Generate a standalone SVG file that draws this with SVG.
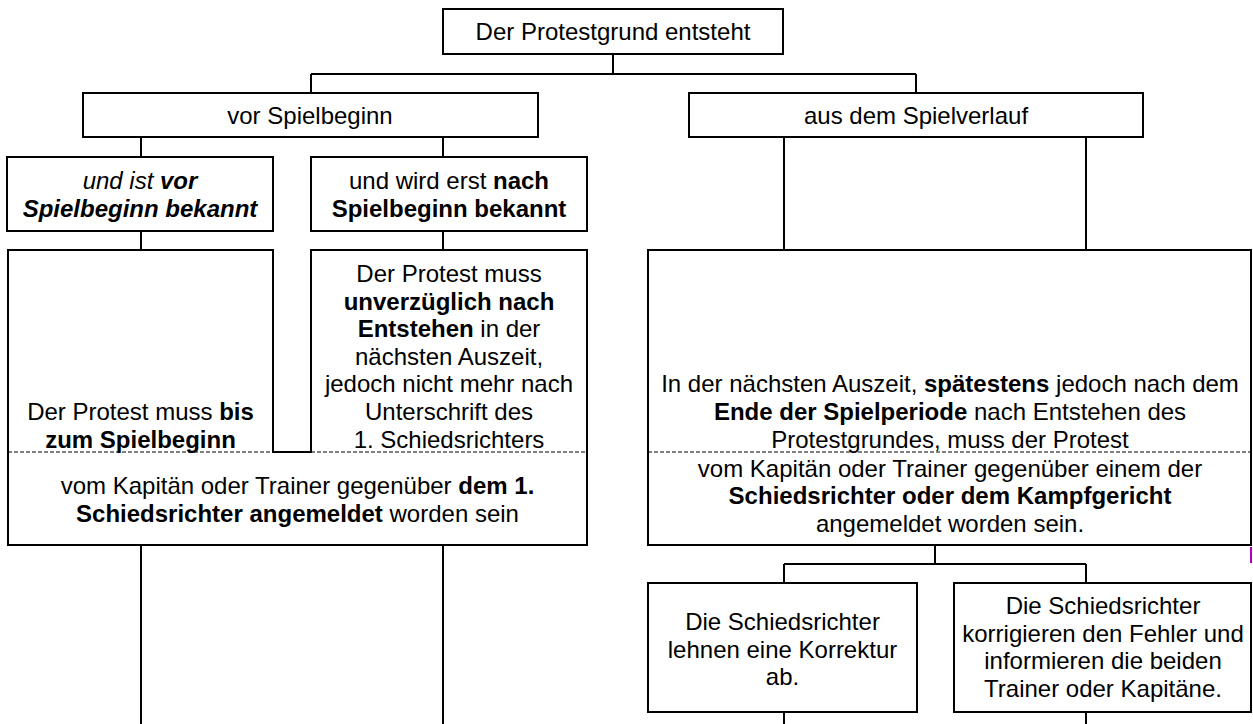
<svg xmlns="http://www.w3.org/2000/svg" width="1253" height="724" viewBox="0 0 1253 724">
<style>
.box{fill:#fff;stroke:#000;stroke-width:2}
.ln{fill:none;stroke:#000;stroke-width:2}
.dash{fill:none;stroke:#000;stroke-width:1;stroke-dasharray:4 2}
text{font-family:"Liberation Sans",Arial,sans-serif;font-size:24px;fill:#000;text-anchor:middle}
.b{font-weight:bold}
.i{font-style:italic}
</style>
<rect width="1253" height="724" fill="#fff"/>
<g id="connectors">
<path class="ln" d="M613 54V74M311 74H916M311 74V93M916 74V93"/>
<path class="ln" d="M141 137V157M443 137V157M141 231V250M443 231V250M141 545V724M443 545V724"/>
<path class="ln" d="M784 137V250M1086 137V250"/>
<path class="ln" d="M935 545V564M784 564H1086M784 564V583M1086 564V583M784 712V724M1086 712V724"/>
<path d="M1251 547V563" stroke="#b000b0" stroke-width="2"/>
</g>
<g id="node-root">
<rect class="box" x="443" y="9" width="340" height="45"/>
<text x="613" y="40">Der Protestgrund entsteht</text>
</g>
<g id="node-vor">
<rect class="box" x="83" y="93" width="455" height="44"/>
<text x="310" y="123.5">vor Spielbeginn</text>
</g>
<g id="node-aus">
<rect class="box" x="689" y="93" width="454" height="44"/>
<text x="916" y="123.5">aus dem Spielverlauf</text>
</g>
<g id="node-vor-bekannt">
<rect class="box" x="7" y="157" width="266" height="74"/>
<text x="140" y="189" class="i">und ist <tspan class="b">vor</tspan></text>
<text x="140" y="217" class="i b">Spielbeginn bekannt</text>
</g>
<g id="node-nach-bekannt">
<rect class="box" x="311" y="157" width="276" height="74"/>
<text x="449" y="189">und wird erst <tspan class="b">nach</tspan></text>
<text x="449" y="217" class="b">Spielbeginn bekannt</text>
</g>
<g id="node-left-deadline">
<path class="box" d="M8 250H273V452H311V250H587V545H8Z"/>
<path class="dash" d="M8 452H273M311 452H587"/>
<text x="140.5" y="420">Der Protest muss <tspan class="b">bis</tspan></text>
<text x="140.5" y="447.5" class="b">zum Spielbeginn</text>
<text x="449" y="281.9">Der Protest muss</text>
<text x="449" y="309.5" class="b">unverzüglich nach</text>
<text x="449" y="337.1"><tspan class="b">Entstehen</tspan> in der</text>
<text x="449" y="364.7">nächsten Auszeit,</text>
<text x="449" y="392.3">jedoch nicht mehr nach</text>
<text x="449" y="419.9">Unterschrift des</text>
<text x="449" y="447.5">1. Schiedsrichters</text>
<text x="297.5" y="494">vom Kapitän oder Trainer gegenüber <tspan class="b">dem 1.</tspan></text>
<text x="297.5" y="521.5"><tspan class="b">Schiedsrichter angemeldet</tspan> worden sein</text>
</g>
<g id="node-right-deadline">
<rect class="box" x="648" y="250" width="603" height="295"/>
<path class="dash" d="M648 452H1251"/>
<text x="950" y="392.3">In der nächsten Auszeit, <tspan class="b">spätestens</tspan> jedoch nach dem</text>
<text x="950" y="419.9"><tspan class="b">Ende der Spielperiode</tspan> nach Entstehen des</text>
<text x="950" y="447.5">Protestgrundes, muss der Protest</text>
<text x="950" y="476.5">vom Kapitän oder Trainer gegenüber einem der</text>
<text x="950" y="504" class="b">Schiedsrichter oder dem Kampfgericht</text>
<text x="950" y="531.5">angemeldet worden sein.</text>
</g>
<g id="node-reject">
<rect class="box" x="648" y="583" width="269" height="129"/>
<text x="782.5" y="630">Die Schiedsrichter</text>
<text x="782.5" y="657.6">lehnen eine Korrektur</text>
<text x="782.5" y="685.2">ab.</text>
</g>
<g id="node-correct">
<rect class="box" x="954" y="583" width="297" height="129"/>
<text x="1103" y="614">Die Schiedsrichter</text>
<text x="1103" y="641.6">korrigieren den Fehler und</text>
<text x="1103" y="669.2">informieren die beiden</text>
<text x="1103" y="696.8">Trainer oder Kapitäne.</text>
</g>
</svg>
